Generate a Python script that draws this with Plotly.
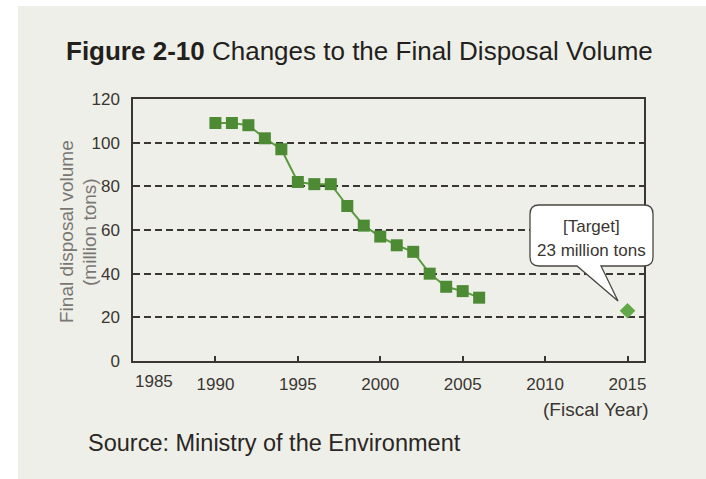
import plotly.graph_objects as go

years = [1990, 1991, 1992, 1993, 1994, 1995, 1996, 1997, 1998, 1999,
         2000, 2001, 2002, 2003, 2004, 2005, 2006]
volume = [109, 109, 108, 102, 97, 82, 81, 81, 71, 62,
          57, 53, 50, 40, 34, 32, 29]
target_year = [2015]
target_value = [23]
x_ticks = [1985, 1990, 1995, 2000, 2005, 2010, 2015]
y_ticks = [0, 20, 40, 60, 80, 100, 120]

W, H = 706, 479
# plot area in screen pixels
L, R, T, B = 133, 644, 99, 361


def px(x):
    """screen x pixel -> paper x"""
    return (x - L) / (R - L)


def py(y):
    """screen y pixel -> paper y"""
    return (B - y) / (B - T)


BG = "#efefe9"
DARK = "#3a3632"
FONT = "Liberation Sans, Arial, Helvetica, sans-serif"

fig = go.Figure()
fig.add_trace(go.Scatter(
    x=years, y=volume, mode="lines+markers",
    line=dict(color="#5b9b40", width=2),
    marker=dict(symbol="square", size=12, color="#4c8a34"),
    hoverinfo="x+y", showlegend=False))
fig.add_trace(go.Scatter(
    x=target_year, y=target_value, mode="markers",
    marker=dict(symbol="diamond", size=12, color="#62a848"),
    showlegend=False))

shapes = []
# white page strips at left and top of the beige panel
shapes.append(dict(type="rect", xref="paper", yref="paper",
                   x0=px(-5), x1=px(18), y0=py(-5), y1=py(485),
                   fillcolor="white", line=dict(width=0), layer="below"))
shapes.append(dict(type="rect", xref="paper", yref="paper",
                   x0=px(-5), x1=px(712), y0=py(-5), y1=py(6),
                   fillcolor="white", line=dict(width=0), layer="below"))

# speech bubble (screen pixels)
bl, br, bt, bb, rr = 530, 653, 205, 266, 9
tail_a, tail_b, tip_x, tip_y = 577, 601, 618, 301
pts = [
    ("M", bl + rr, bt), ("L", br - rr, bt), ("Q", br, bt, br, bt + rr),
    ("L", br, bb - rr), ("Q", br, bb, br - rr, bb),
    ("L", tail_b, bb), ("L", tip_x, tip_y), ("L", tail_a, bb),
    ("L", bl + rr, bb), ("Q", bl, bb, bl, bb - rr),
    ("L", bl, bt + rr), ("Q", bl, bt, bl + rr, bt),
]
path = ""
for p in pts:
    cmd = p[0]
    coords = p[1:]
    s = []
    for i in range(0, len(coords), 2):
        s.append(f"{px(coords[i]):.5f},{py(coords[i+1]):.5f}")
    path += cmd + " " + " ".join(s) + " "
path += "Z"
shapes.append(dict(type="path", xref="paper", yref="paper", path=path,
                   fillcolor="white", line=dict(color="#4a4642", width=1.3),
                   layer="above"))

annotations = [
    dict(x=px(64), y=py(51), xref="paper", yref="paper", xanchor="left",
         yanchor="middle", showarrow=False,
         text="<b>Figure 2-10</b> Changes to the Final Disposal Volume",
         font=dict(size=26, color="#231f1c", family=FONT)),
    dict(x=px(86), y=py(443), xref="paper", yref="paper", xanchor="left",
         yanchor="middle", showarrow=False,
         text="Source: Ministry of the Environment",
         font=dict(size=23.5, color="#2a2623", family=FONT)),
    dict(x=px(66), y=py(232), xref="paper", yref="paper", xanchor="center",
         yanchor="middle", showarrow=False, textangle=-90,
         text="Final disposal volume",
         font=dict(size=19, color="#7a7672", family=FONT)),
    dict(x=px(89), y=py(232), xref="paper", yref="paper", xanchor="center",
         yanchor="middle", showarrow=False, textangle=-90,
         text="(million tons)",
         font=dict(size=19, color="#7a7672", family=FONT)),
    dict(x=px(651), y=py(409), xref="paper", yref="paper", xanchor="right",
         yanchor="middle", showarrow=False, text="(Fiscal Year)",
         font=dict(size=19, color="#3a3632", family=FONT)),
    dict(x=px(591), y=py(226), xref="paper", yref="paper", xanchor="center",
         yanchor="middle", showarrow=False, text="[Target]",
         font=dict(size=17, color="#3a3632", family=FONT)),
    dict(x=px(591), y=py(250), xref="paper", yref="paper", xanchor="center",
         yanchor="middle", showarrow=False, text="23 million tons",
         font=dict(size=17, color="#3a3632", family=FONT)),
    # first x tick label sits left-aligned at the axis corner
    dict(x=x_ticks[0], xref="x", y=py(381.5), yref="paper", xanchor="left",
         yanchor="middle", showarrow=False, text=str(x_ticks[0]),
         font=dict(size=17, color="#3a3632", family=FONT)),
]

fig.update_layout(
    width=W, height=H,
    margin=dict(l=L, r=W - R, t=T, b=H - B, pad=0),
    paper_bgcolor=BG, plot_bgcolor="rgba(0,0,0,0)",
    shapes=shapes, annotations=annotations,
    font=dict(family=FONT, color="#3a3632"),
    xaxis=dict(range=[1985, 2016], tickvals=x_ticks,
               ticktext=[""] + [str(v) for v in x_ticks[1:]],
               showgrid=False, zeroline=False,
               showline=True, mirror=True, linecolor=DARK, linewidth=1.5,
               ticks="inside", ticklen=5, tickwidth=1.5, tickcolor=DARK,
               ticklabelstandoff=7,
               tickfont=dict(size=17, color="#3a3632")),
    yaxis=dict(range=[0, 120], tickvals=y_ticks,
               showgrid=True, gridcolor=DARK, gridwidth=1.5,
               griddash="7px,4px", zeroline=False,
               showline=True, mirror=True, linecolor=DARK, linewidth=1.5,
               ticks="", ticklabelstandoff=8,
               tickfont=dict(size=17, color="#3a3632")),
)

fig.write_html(
    "out.html",
    config={"displayModeBar": False},
    post_script="document.body.style.margin='0';"
                "document.body.style.overflow='hidden';"
                "document.body.style.background='#efefe9';",
)
